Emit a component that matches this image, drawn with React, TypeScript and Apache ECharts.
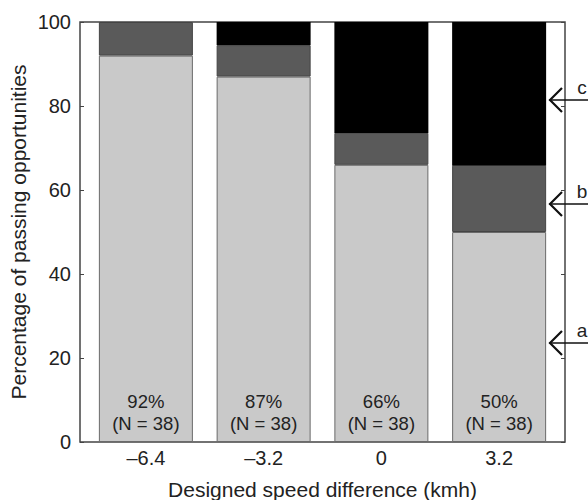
import React, { useEffect, useRef } from "react";
import * as echarts from "echarts";

const categories = ["–6.4", "–3.2", "0", "3.2"];
const seriesA = [92, 87, 66, 50];
const seriesB = [8, 7.5, 7.6, 15.8];
const seriesC = [0, 5.5, 26.4, 34.2];
const pctLabels = ["92%", "87%", "66%", "50%"];
const nLabels = [38, 38, 38, 38];
const yTicks = [0, 20, 40, 60, 80, 100];

const FONT = "'Liberation Sans', Arial, Helvetica, sans-serif";
const TXT = "#222";

function arrow(y: number, letter: string, ly: number) {
  return [
    { type: "line", shape: { x1: 549, y1: y, x2: 590, y2: y }, style: { stroke: "#111", lineWidth: 1.6 } },
    {
      type: "polyline",
      shape: { points: [[562, y - 12], [550, y], [562, y + 12]] },
      style: { stroke: "#111", lineWidth: 2.2, fill: null },
    },
    {
      type: "text",
      x: 582,
      y: ly,
      style: { text: letter, font: `19px ${FONT}`, fill: TXT, align: "center", verticalAlign: "middle" },
    },
  ];
}

export default function App() {
  const ref = useRef<HTMLDivElement>(null);
  useEffect(() => {
    document.body.style.margin = "0";
    const chart = echarts.init(ref.current!, null, { renderer: "svg" });
    const barLabel = {
      show: true,
      position: "insideBottom",
      distance: 8,
      fontSize: 18.5,
      lineHeight: 22,
      color: TXT,
      fontFamily: FONT,
      formatter: (p: any) => `${pctLabels[p.dataIndex]}\n(N = ${nLabels[p.dataIndex]})`,
    };
    chart.setOption({
      animation: false,
      textStyle: { fontFamily: FONT },
      grid: [
        { left: 80, top: 22, width: 485, height: 420, show: true, borderColor: "#444", borderWidth: 1.5, backgroundColor: "transparent", outerBoundsMode: "none", containLabel: false },
        { left: 87, top: 22, width: 471, height: 420, outerBoundsMode: "none", containLabel: false },
      ],
      xAxis: [
        { type: "value", gridIndex: 0, show: false, min: 0, max: 1 },
        {
          type: "category",
          gridIndex: 1,
          data: categories,
          axisLine: { show: false },
          axisTick: { show: false },
          axisLabel: { fontSize: 20, color: TXT, margin: 6, fontFamily: FONT },
          name: "Designed speed difference (kmh)",
          nameLocation: "middle",
          nameGap: 37,
          nameMoveOverlap: false,
          nameTextStyle: { fontSize: 21, color: TXT, fontFamily: FONT },
        },
      ],
      yAxis: [
        {
          type: "value",
          gridIndex: 0,
          min: yTicks[0],
          max: yTicks[yTicks.length - 1],
          interval: 20,
          axisLine: { show: false },
          axisTick: { show: true, inside: true, length: 4, lineStyle: { color: "#444" } },
          splitLine: { show: false },
          axisLabel: { fontSize: 20, color: TXT, margin: 9, fontFamily: FONT },
          name: "Percentage of passing opportunities",
          nameLocation: "middle",
          nameGap: 51,
          nameMoveOverlap: false,
          nameTextStyle: { fontSize: 21, color: TXT, fontFamily: FONT },
        },
        {
          type: "value",
          gridIndex: 0,
          position: "right",
          min: 0,
          max: 100,
          interval: 20,
          axisLine: { show: false },
          axisTick: { show: true, inside: true, length: 4, lineStyle: { color: "#444" } },
          axisLabel: { show: false },
          splitLine: { show: false },
        },
        { type: "value", gridIndex: 1, min: 0, max: 100, show: false },
      ],
      series: [
        {
          type: "bar",
          name: "a",
          stack: "s",
          xAxisIndex: 1,
          yAxisIndex: 2,
          barWidth: 94,
          data: seriesA,
          itemStyle: { color: "#c9c9c9", borderColor: "#6a6a6a", borderWidth: 1 },
          label: barLabel,
          z: 3,
        },
        {
          type: "bar",
          name: "b",
          stack: "s",
          xAxisIndex: 1,
          yAxisIndex: 2,
          barWidth: 94,
          data: seriesB,
          itemStyle: { color: "#5a5a5a", borderColor: "#444", borderWidth: 1 },
          z: 3,
        },
        {
          type: "bar",
          name: "c",
          stack: "s",
          xAxisIndex: 1,
          yAxisIndex: 2,
          barWidth: 94,
          data: seriesC,
          itemStyle: { color: "#000000", borderWidth: 0 },
          z: 3,
        },
      ],
      graphic: [...arrow(100, "c", 87), ...arrow(204, "b", 191), ...arrow(343, "a", 330)],
    });
    return () => chart.dispose();
  }, []);
  return <div ref={ref} style={{ position: "absolute", left: 0, top: 0, width: 588, height: 500 }} />;
}
